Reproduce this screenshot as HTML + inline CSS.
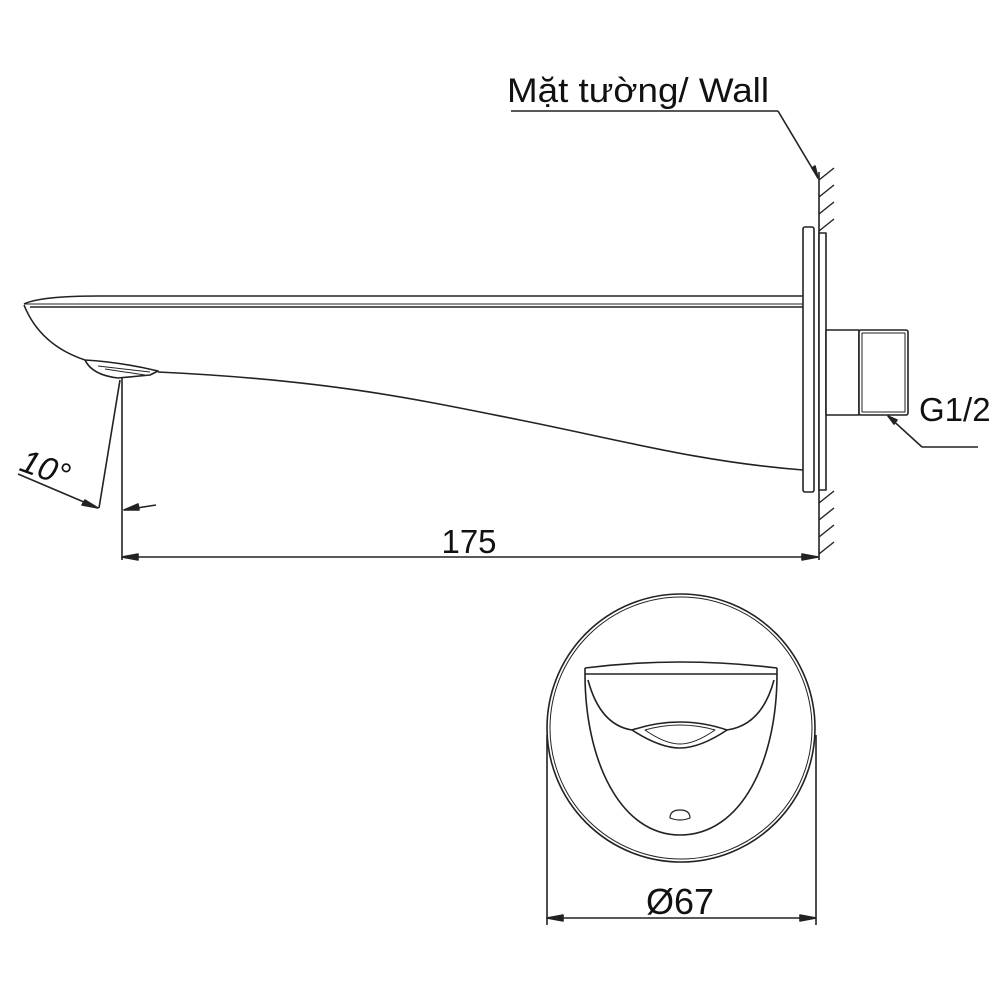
<!DOCTYPE html>
<html><head><meta charset="utf-8"><style>
html,body{margin:0;padding:0;background:#fff;}
svg{display:block;}
text{font-family:"Liberation Sans","DejaVu Sans",sans-serif;fill:#111;}
</style></head><body>
<svg width="1000" height="1000" viewBox="0 0 1000 1000" xmlns="http://www.w3.org/2000/svg">
<g fill="none" stroke="#222" stroke-width="1.6" stroke-linejoin="round">
<text x="507" y="102" font-size="34" stroke="none" textLength="262" lengthAdjust="spacingAndGlyphs">Mặt tường/ Wall</text>
<line x1="511" y1="111" x2="778" y2="111"/>
<line x1="778" y1="111" x2="818" y2="178"/>
<path d="M812 168 L818 178 L815 166 Z" fill="#222"/>
<line x1="819" y1="172" x2="819" y2="560"/>
<g stroke-width="1.4">
<line x1="819" y1="180" x2="834" y2="168"/>
<line x1="819" y1="197" x2="834" y2="185"/>
<line x1="819" y1="214" x2="834" y2="202"/>
<line x1="819" y1="231" x2="834" y2="219"/>
<line x1="819" y1="503" x2="834" y2="491"/>
<line x1="819" y1="520" x2="834" y2="508"/>
<line x1="819" y1="537" x2="834" y2="525"/>
<line x1="819" y1="554" x2="834" y2="542"/>
</g>
<rect x="803" y="227" width="11" height="265" rx="2" fill="#fff"/>
<rect x="819" y="233" width="7" height="257" fill="#fff"/>
<rect x="826" y="330" width="33" height="85" fill="#fff"/>
<rect x="859" y="330" width="49" height="85" rx="2" fill="#fff"/>
<rect x="862" y="333" width="43" height="79" fill="none" stroke-width="1"/>
<text x="919" y="421" font-size="33" stroke="none">G1/2</text>
<line x1="888" y1="416" x2="922" y2="447"/>
<line x1="922" y1="447" x2="978" y2="447"/>
<path d="M888 416 L897 420 L894 424 Z" fill="#222"/>
<path d="M24 304 Q40 296 100 296 L803 296"/>
<line x1="30" y1="307" x2="803" y2="307"/>
<path d="M24 304 L803 304" stroke-width="1"/>
<path d="M24 305 Q40 345 85 360"/>
<path d="M85 360 Q92 375 118 378 L150 375 L158 371 Q120 362 85 360" fill="#fff"/>
<line x1="98" y1="366" x2="150" y2="372" stroke-width="1"/>
<line x1="105" y1="369" x2="145" y2="375" stroke-width="1"/>
<path d="M158 372 C330 380 420 400 520 420 C620 440 700 462 803 470"/>
<line x1="122" y1="378" x2="122" y2="560"/>
<line x1="120" y1="380" x2="99" y2="508"/>
<line x1="18" y1="474" x2="98" y2="508"/>
<path d="M98 508 L82 505 L85 500 Z" fill="#222"/>
<line x1="124" y1="510" x2="156" y2="505"/>
<path d="M124 510 L138 504 L139 510 Z" fill="#222"/>
<text x="0" y="0" font-size="33" stroke="none" font-style="italic" transform="translate(18 470) rotate(20)">10°</text>
<line x1="122" y1="557" x2="818" y2="557"/>
<path d="M122 557 L138 554 L138 560 Z" fill="#222"/>
<path d="M818 557 L802 554 L802 560 Z" fill="#222"/>
<text x="469" y="553" font-size="33" stroke="none" text-anchor="middle">175</text>
<circle cx="681" cy="728" r="134"/>
<circle cx="681" cy="728" r="131" stroke-width="1"/>
<line x1="547" y1="735" x2="547" y2="925"/>
<line x1="816" y1="735" x2="816" y2="925"/>
<line x1="547" y1="918" x2="816" y2="918"/>
<path d="M547 918 L563 915 L563 921 Z" fill="#222"/>
<path d="M816 918 L800 915 L800 921 Z" fill="#222"/>
<text x="680" y="914" font-size="36" stroke="none" text-anchor="middle">Ø67</text>
<path d="M585 668 Q680 656 777 668"/>
<line x1="585" y1="674" x2="777" y2="674"/>
<path d="M585 668 L585 674 C585 760 620 835 680 835 C742 835 777 760 777 674 L777 668"/>
<path d="M588 680 Q600 725 632 730"/>
<path d="M774 680 Q762 725 727 730"/>
<path d="M632 730 Q680 714 727 730 Q700 748 680 748 Q660 748 632 730 Z"/>
<path d="M645 730 Q680 720 715 730 Q695 744 680 744 Q665 744 645 730 Z" stroke-width="1"/>
<path d="M670 818 Q670 810 680 810 Q690 810 690 818 Q680 822 670 818 Z" stroke-width="1.2"/>
</g>
</svg>
</body></html>
